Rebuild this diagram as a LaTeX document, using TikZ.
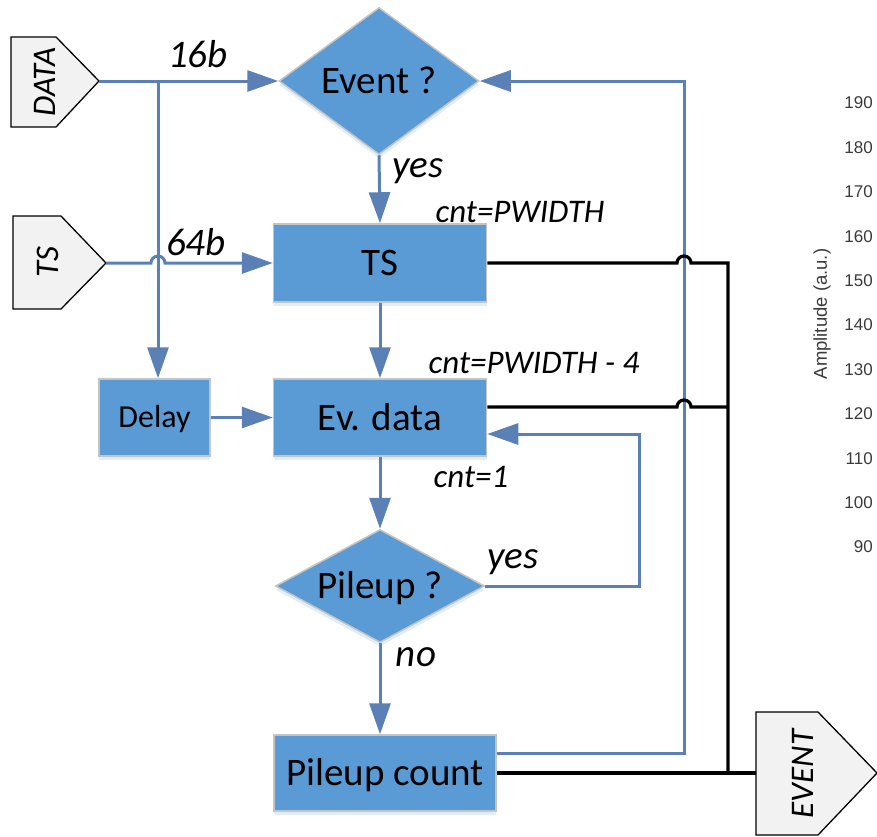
\documentclass[tikz,border=0pt]{standalone}
\usepackage{fontspec}
\setmainfont{Carlito}
\newfontfamily\axisfont{Liberation Sans}
\usetikzlibrary{arrows.meta,shapes.geometric,calc,shadows}

\definecolor{boxblue}{HTML}{5B9BD5}
\definecolor{flowblue}{HTML}{5B80B6}
\definecolor{edgegray}{HTML}{C4C4C4}
\definecolor{portgray}{HTML}{F2F2F2}
\definecolor{axisgray}{HTML}{3A3A3A}

\tikzset{
  blk/.style={draw=edgegray, line width=1.5pt, fill=boxblue, inner sep=0pt,
    text height=25pt, text depth=0pt, font=\fontsize{39}{42}\selectfont,
    general shadow={fill=boxblue!18, shadow yshift=-4pt}},
  flow/.style={draw=flowblue, line width=3pt},
  arr/.style={flow, -{Triangle[length=31pt,width=21pt]}},
  sig/.style={draw=black, line width=3.2pt},
  port/.style={draw=black, line width=1.3pt, fill=portgray},
  porttext/.style={rotate=90, inner sep=0pt, text height=21pt, text depth=0pt,
    font=\fontsize{33}{35}\selectfont\itshape},
  lbl/.style={inner sep=0pt, anchor=base, font=\fontsize{39}{41}\selectfont\itshape},
  cntlbl/.style={inner sep=0pt, anchor=base, font=\fontsize{33}{35}\selectfont\itshape},
  tick/.style={inner sep=0pt, anchor=east, text=axisgray,
    font=\axisfont\fontsize{17}{19}\selectfont},
}

\begin{document}
\begin{tikzpicture}[x=1pt,y=-1pt]
\useasboundingbox (0,0) rectangle (877,836);

% amplitude axis labels on the right
\foreach \v [count=\i from 0] in {190,180,...,90}
  \node[tick] (tick\v) at (873,{103+44.4*\i}) {\v};
\node[rotate=90, inner sep=0pt, text=axisgray, font=\axisfont\fontsize{18.5}{20}\selectfont]
  (amp) at (822,314) {Amplitude (a.u.)};

% input / output ports
\draw[port] (11,37) -- (56,37) -- (99,81) -- (56,127) -- (11,127) -- cycle;
\coordinate (datatip) at (99,81);
\node[porttext] (datal) at (45,82) {DATA};

\draw[port] (13,216) -- (61,216) -- (106,263) -- (61,309) -- (13,309) -- cycle;
\coordinate (tstip) at (106,263);
\node[porttext] (tsl) at (48,262) {TS};

\draw[port] (756,712) -- (818,712) -- (877,773) -- (818,835) -- (756,835) -- cycle;
\coordinate (evin) at (756,773);
\node[porttext] (evl) at (803,774) {EVENT};

% flow blocks
\node[blk, diamond, aspect=1.36, minimum width=200pt, minimum height=147pt] (ev) at (379,81) {Event ?};
\node[blk, minimum width=213pt, minimum height=78pt] (ts) at (380,263) {TS};
\node[blk, minimum width=213pt, minimum height=77pt] (evd) at (380,417.5) {Ev. data};
\node[blk, minimum width=111pt, minimum height=77pt, text height=20.6pt,
  font=\fontsize{32}{35}\selectfont] (dly) at (154.5,417.5) {Delay};
\node[blk, diamond, aspect=1.84, minimum width=209pt, minimum height=113pt] (pu) at (380,586) {Pileup ?};
\node[blk, minimum width=222pt, minimum height=76pt] (puc) at (385,773) {Pileup count};

% junction points
\coordinate (br) at (158,81);
\coordinate (lp) at (639,434);
\coordinate (fb) at (684,753);
\coordinate (j1) at (728,263);
\coordinate (j2) at (728,407);
\coordinate (j3) at (728,773);

% blue flow connectors
\draw[arr] (datatip) -- (ev.west);
\draw[arr] (br) -- (br |- dly.north);
\draw[arr] (tstip) -- ($(br |- tstip)+(-7,0)$) arc[start angle=180,end angle=0,radius=7pt] -- (ts.west);
\draw[arr] (ev.south) -- (ts.north);
\draw[arr] (ts.south) -- (evd.north);
\draw[arr] (dly.east) -- (evd.west);
\draw[arr] (evd.south) -- (pu.north);
\draw[arr] (pu.south) -- (pu.south |- puc.north);
\draw[arr] (pu.east) -| (lp) -- (evd.east |- lp);
\draw[arr] (puc.east |- fb) -- (fb) |- (ev.east);

% black event bus
\draw[sig] (ts.east) -- ($(fb |- ts.east)+(-7,0)$) arc[start angle=180,end angle=0,radius=7pt] -- (j1) -- (j3);
\draw[sig] (evd.east |- j2) -- ($(fb |- j2)+(-7,0)$) arc[start angle=180,end angle=0,radius=7pt] -- (j2);
\draw[sig] (puc.east) -- (evin);

% labels
\node[lbl] (l16) at (198,67) {16b};
\node[lbl] (l64) at (196,255) {64b};
\node[lbl] (lyes1) at (418,177) {yes};
\node[cntlbl] (c1) at (520,222) {cnt=PWIDTH};
\node[cntlbl] (c2) at (534,373) {cnt=PWIDTH - 4};
\node[cntlbl] (c3) at (471,487) {cnt=1};
\node[lbl] (lyes2) at (513,568) {yes};
\node[lbl] (lno) at (416,666) {no};
\end{tikzpicture}
\end{document}
